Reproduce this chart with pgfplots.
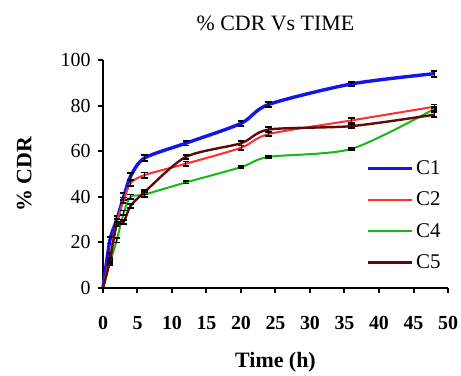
\documentclass[border=0pt]{standalone}
\usepackage{pgfplots}
\pgfplotsset{compat=1.18}
\usepackage{fontspec}
\setmainfont{Liberation Serif}
\definecolor{cone}{RGB}{20,20,240}
\definecolor{ctwo}{RGB}{255,45,45}
\definecolor{cfour}{RGB}{20,185,20}
\definecolor{cfive}{RGB}{95,10,10}
\pgfplotstableread{
t y e
0 0 0
1 21 1.5
2 30 1.5
3 40 1.5
4 49 1.5
6 57 1.2
12 63.5 1
20 72.2 1
24 80.5 1
36 89.5 0.8
48 94 1.3
}\Cone
\pgfplotstableread{
t y e
0 0 0
1 14 1.2
2 29 1.2
3 38.5 1.2
4 46 1.2
6 49.5 1.2
12 54.5 1
20 61.5 1
24 67.5 1
36 73.5 1
48 79.5 1
}\Ctwo
\pgfplotstableread{
t y e
0 0 0
1 11 1
2 21 1
3 33 1
4 40 1
6 41 1
12 46.3 0.5
20 53 0.5
24 57.5 0.5
36 61 0.5
48 78.5 1
}\Cfour
\pgfplotstableread{
t y e
0 0 0
1 12 1
2 28 1
3 29 1
4 36 1
6 42 1
12 57.5 1
20 63.5 1
24 69.5 1
36 71 0.8
48 76 1
}\Cfive
\begin{document}
\begin{tikzpicture}
\useasboundingbox (-103bp,-88bp) rectangle (358bp,288bp);
\begin{axis}[
  at={(0,0)}, anchor=south west,
  scale only axis, width=345bp, height=228bp,
  xmin=0, xmax=50, ymin=0, ymax=100,
  xtick={0,5,...,50}, ytick={0,20,...,100},
  axis lines=left,
  axis line style={line width=2.2bp, -},
  tick style={black, line width=2bp},
  tick align=outside, major tick length=5bp,
  /pgf/number format/assume math mode=true,
  xticklabel style={font=\fontsize{20}{24}\selectfont\bfseries, yshift=-20bp},
  yticklabel style={font=\fontsize{20}{24}\selectfont, xshift=-4bp},
  title={\% CDR Vs TIME},
  title style={font=\fontsize{22}{26}\selectfont, yshift=20bp},
  xlabel={Time (h)},
  xlabel style={font=\fontsize{22}{26}\selectfont\bfseries, yshift=-15bp},
  ylabel={\% CDR},
  ylabel style={font=\fontsize{22}{26}\selectfont\bfseries, yshift=22bp},
  legend style={draw=none, fill=none, at={(0.755,0.06)}, anchor=south west,
    font=\fontsize{21}{25}\selectfont, row sep=12bp,
    legend cell align=left},
  legend image code/.code={\draw[#1] (0bp,0bp) -- (44bp,0bp);},
  error bars/error bar style={black, line width=0.8bp},
  error bars/error mark options={black, rotate=90, mark size=3.2bp, line width=1.8bp},
  clip=false,
]
\addplot[cone, line width=3.4bp, smooth, tension=0.45, error bars/.cd, y dir=both, y explicit] table[x=t, y=y, y error=e] {\Cone};
\addlegendentry{C1}
\addplot[ctwo, line width=2bp, smooth, tension=0.45, error bars/.cd, y dir=both, y explicit] table[x=t, y=y, y error=e] {\Ctwo};
\addlegendentry{C2}
\addplot[cfour, line width=2bp, smooth, tension=0.45, error bars/.cd, y dir=both, y explicit] table[x=t, y=y, y error=e] {\Cfour};
\addlegendentry{C4}
\addplot[cfive, line width=2.4bp, smooth, tension=0.45, error bars/.cd, y dir=both, y explicit] table[x=t, y=y, y error=e] {\Cfive};
\addlegendentry{C5}
\end{axis}
\end{tikzpicture}
\end{document}
